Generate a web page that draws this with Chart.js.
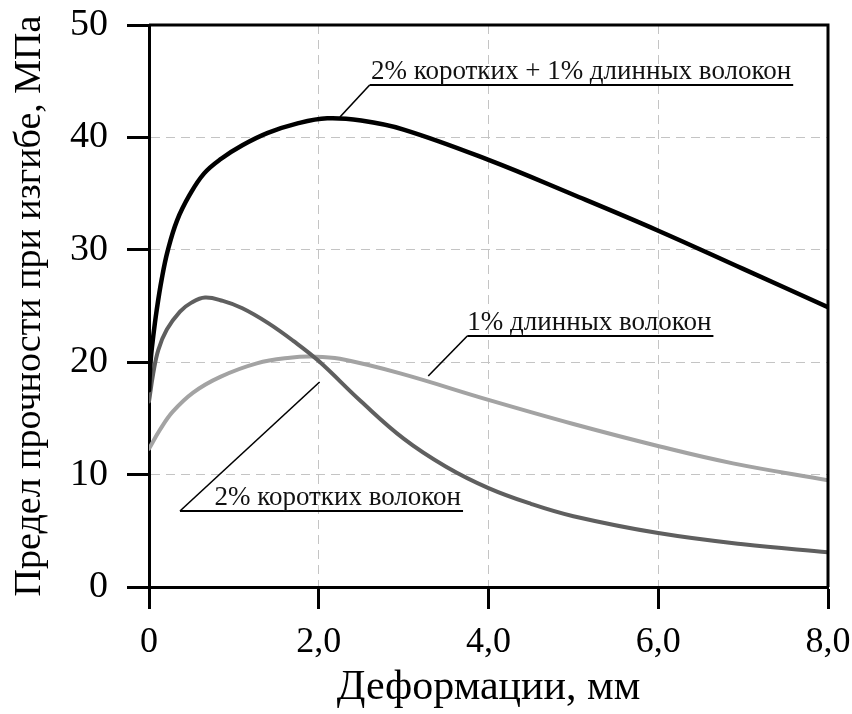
<!DOCTYPE html>
<html>
<head>
<meta charset="utf-8">
<script src="https://cdn.jsdelivr.net/npm/chart.js@4.4.1/dist/chart.umd.min.js"></script>
<style>
  html, body { margin: 0; padding: 0; background: #fff; }
  #wrap { width: 852px; height: 714px; }
</style>
</head>
<body>
<div id="wrap"><canvas id="chart" width="852" height="714"></canvas></div>
<script>
// series (x in mm, y in MPa)
const comboX = [0, 0.02, 0.05, 0.09, 0.15, 0.22, 0.33, 0.48, 0.65, 0.85, 1.1, 1.4, 1.75, 2.1, 2.5, 3.0, 4.0, 5.0, 6.0, 7.0, 8.0];
const comboY = [17.5, 20.2, 22.3, 24.6, 27.4, 29.9, 32.6, 34.9, 36.8, 38.1, 39.3, 40.4, 41.25, 41.7, 41.5, 40.7, 38.0, 34.9, 31.7, 28.3, 24.9];

const shortX = [0, 0.05, 0.11, 0.21, 0.365, 0.5, 0.66, 0.87, 1.1, 1.4, 1.7, 2.0, 2.5, 3.0, 3.5, 4.0, 4.5, 5.0, 6.0, 7.0, 8.0];
const shortY = [16.5, 19.0, 21.1, 22.9, 24.5, 25.3, 25.75, 25.45, 24.8, 23.5, 21.9, 20.1, 16.5, 13.2, 10.7, 8.8, 7.4, 6.3, 4.8, 3.8, 3.1];

const longX = [0, 0.13, 0.28, 0.52, 0.84, 1.27, 1.66, 1.93, 2.25, 2.96, 4.02, 5.0, 6.02, 6.88, 8];
const longY = [12.3, 14.0, 15.6, 17.3, 18.7, 19.9, 20.4, 20.5, 20.3, 19.0, 16.6, 14.5, 12.5, 11.0, 9.5];

// callout labels, anchored in data units
const annoText = ['2% коротких + 1% длинных волокон', '1% длинных волокон', '2% коротких волокон'];
const annoX0 = [2.60, 3.75, 0.365];
const annoX1 = [7.59, 6.65, 3.70];
const annoY = [44.66, 22.33, 6.76];
const annoTipX = [2.25, 3.29, 2.01];
const annoTipY = [41.81, 18.77, 18.24];

const SERIF = '"Liberation Serif", "Times New Roman", serif';

function toPoints(xs, ys) {
  return xs.map((x, i) => ({ x: x, y: ys[i] }));
}

const frame = {
  id: 'frame',
  afterDatasetsDraw(chart) {
    const { ctx, chartArea: a } = chart;
    ctx.save();
    ctx.strokeStyle = '#000';
    ctx.lineWidth = 3;
    ctx.beginPath();
    ctx.moveTo(a.left, a.top);
    ctx.lineTo(a.right, a.top);
    ctx.lineTo(a.right, a.bottom);
    ctx.stroke();
    ctx.restore();
  }
};

const callouts = {
  id: 'callouts',
  afterDatasetsDraw(chart) {
    const ctx = chart.ctx;
    const xs = chart.scales.x, ys = chart.scales.y;
    ctx.save();
    ctx.strokeStyle = '#000';
    ctx.fillStyle = '#111';
    ctx.font = '27px ' + SERIF;
    ctx.textAlign = 'right';
    ctx.textBaseline = 'alphabetic';
    annoText.forEach((t, i) => {
      const x0 = xs.getPixelForValue(annoX0[i]);
      const x1 = xs.getPixelForValue(annoX1[i]);
      const y = ys.getPixelForValue(annoY[i]);
      ctx.lineWidth = 2;
      ctx.beginPath();
      ctx.moveTo(x1, y);
      ctx.lineTo(x0, y);
      ctx.stroke();
      ctx.lineWidth = 1.6;
      ctx.beginPath();
      ctx.moveTo(x0, y);
      ctx.lineTo(xs.getPixelForValue(annoTipX[i]), ys.getPixelForValue(annoTipY[i]));
      ctx.stroke();
      ctx.fillText(t, x1 - 2, y - 6);
    });
    ctx.restore();
  }
};

function gridColor(c) {
  const v = c.tick && c.tick.value;
  return (v === 0 || v === c.scale.max) ? 'rgba(0,0,0,0)' : '#c4c4c4';
}

new Chart(document.getElementById('chart').getContext('2d'), {
  type: 'line',
  data: {
    datasets: [
      { data: toPoints(comboX, comboY), borderColor: '#000000', borderWidth: 4.5 },
      { data: toPoints(shortX, shortY), borderColor: '#5f5f5f', borderWidth: 4 },
      { data: toPoints(longX, longY), borderColor: '#a3a3a3', borderWidth: 4 }
    ]
  },
  options: {
    responsive: false,
    animation: false,
    events: [],
    layout: { padding: { top: 25, right: 24, left: 0, bottom: 0 } },
    elements: {
      point: { radius: 0 },
      line: { tension: 0.4, fill: false, borderCapStyle: 'round', borderJoinStyle: 'round' }
    },
    plugins: { legend: { display: false }, tooltip: { enabled: false } },
    scales: {
      x: {
        type: 'linear',
        min: 0,
        max: 8,
        afterFit(s) { s.height = 127; s.paddingLeft = 0; s.paddingRight = 0; },
        ticks: {
          stepSize: 2,
          padding: 12,
          color: '#000',
          font: { family: SERIF, size: 36 },
          callback: v => v === 0 ? '0' : v.toFixed(1).replace('.', ',')
        },
        grid: { color: gridColor, lineWidth: 1, tickLength: 22, tickColor: '#000', tickWidth: 3 },
        border: { display: true, color: '#000', width: 3, dash: [9, 6] },
        title: {
          display: true,
          text: 'Деформации, мм',
          color: '#000',
          font: { family: SERIF, size: 42 },
          padding: { top: 0, bottom: 1 }
        }
      },
      y: {
        min: 0,
        max: 50,
        afterFit(s) { s.width = 149; s.paddingTop = 0; s.paddingBottom = 0; },
        ticks: {
          stepSize: 10,
          padding: 19,
          color: '#000',
          font: { family: SERIF, size: 38 }
        },
        grid: { color: gridColor, lineWidth: 1, tickLength: 22, tickColor: '#000', tickWidth: 3 },
        border: { display: true, color: '#000', width: 3, dash: [9, 6] },
        title: {
          display: true,
          text: 'Предел прочности при изгибе, МПа',
          color: '#000',
          font: { family: SERIF, size: 38 },
          padding: { top: 7, bottom: 0 }
        }
      }
    }
  },
  plugins: [frame, callouts]
});
</script>
</body>
</html>
